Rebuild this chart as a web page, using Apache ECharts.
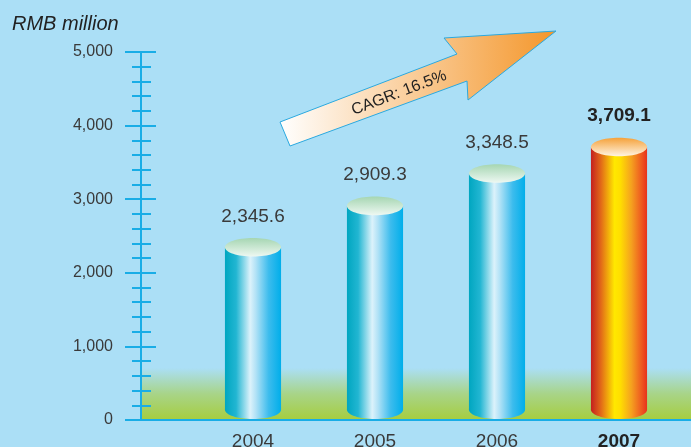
<!DOCTYPE html>
<html>
<head>
<meta charset="utf-8">
<script src="https://cdn.jsdelivr.net/npm/echarts@6/dist/echarts.min.js"></script>
<style>
  html, body { margin: 0; padding: 0; background: #abdff6; }
  #chart { width: 691px; height: 447px; }
</style>
</head>
<body>
<div id="chart"></div>
<script>
const years = ['2004', '2005', '2006', '2007']
const revenue = [2345.6, 2909.3, 3348.5, 3709.1]
const highlightIndex = 3
const yTicks = { min: 0, max: 5000, interval: 1000 }
const cagrText = 'CAGR: 16.5%'

const axisBlue = '#19ade6'
const font = 'Liberation Sans, Arial, sans-serif'

function fmt(v, digits) {
  return v.toLocaleString('en-US', { minimumFractionDigits: digits, maximumFractionDigits: digits })
}

const blueBody = new echarts.graphic.LinearGradient(0, 0, 1, 0, [
  { offset: 0, color: '#00a6c0' },
  { offset: 0.2, color: '#22b6d2' },
  { offset: 0.45, color: '#dcf2fb' },
  { offset: 0.55, color: '#b2e2f6' },
  { offset: 0.78, color: '#3cbced' },
  { offset: 1, color: '#00aeea' }
])
const blueCap = new echarts.graphic.LinearGradient(0, 0, 0, 1, [
  { offset: 0, color: '#a6d6b2' },
  { offset: 1, color: '#eef8f2' }
])
const hotBody = new echarts.graphic.LinearGradient(0, 0, 1, 0, [
  { offset: 0, color: '#c41f1f' },
  { offset: 0.18, color: '#e26a18' },
  { offset: 0.42, color: '#ffe800' },
  { offset: 0.52, color: '#ffdf00' },
  { offset: 0.72, color: '#f5a11f' },
  { offset: 0.9, color: '#ee5a20' },
  { offset: 1, color: '#e8321c' }
])
const hotCap = new echarts.graphic.LinearGradient(0, 0, 0, 1, [
  { offset: 0, color: '#f5a13a' },
  { offset: 1, color: '#fff4e2' }
])

function renderCylinder(params, api) {
  const idx = api.value(0)
  const val = api.value(1)
  const top = api.coord([idx, val])
  const base = api.coord([idx, 0])
  const w = api.size([1, 0])[0] * 0.46
  const ry = w * 0.165
  const cx = top[0]
  const yBot = base[1] - ry - 1
  const hot = idx === highlightIndex
  const body = hot ? hotBody : blueBody
  return {
    type: 'group',
    children: [
      { type: 'rect', shape: { x: cx - w / 2, y: top[1], width: w, height: yBot - top[1] }, style: { fill: body } },
      { type: 'ellipse', shape: { cx: cx, cy: yBot, rx: w / 2, ry: ry }, style: { fill: body } },
      { type: 'ellipse', shape: { cx: cx, cy: top[1], rx: w / 2, ry: ry }, style: { fill: hot ? hotCap : blueCap } },
      {
        type: 'text',
        style: {
          text: fmt(val, 1),
          x: cx,
          y: top[1] - ry - 12,
          align: 'center',
          verticalAlign: 'bottom',
          fontFamily: font,
          fontSize: 19,
          fontWeight: hot ? 'bold' : 'normal',
          fill: hot ? '#222' : '#3a3a3a'
        }
      }
    ]
  }
}

const yBase = {
  gridIndex: 0,
  type: 'value',
  min: yTicks.min,
  max: yTicks.max,
  interval: yTicks.interval,
  offset: 51,
  position: 'left',
  splitLine: { show: false }
}

const option = {
  backgroundColor: '#abdff6',
  animation: false,
  title: {
    text: 'RMB million',
    left: 7,
    top: 9,
    textStyle: { fontFamily: font, fontSize: 20, fontStyle: 'italic', fontWeight: 'normal', color: '#222' }
  },
  grid: [
    { left: 192, right: 11, top: 52, bottom: 27, outerBoundsMode: 'none', containLabel: false },
    {
      left: 141, right: 0, top: 368, bottom: 27, show: true, borderWidth: 0,
      outerBoundsMode: 'none', containLabel: false,
      backgroundColor: new echarts.graphic.LinearGradient(0, 0, 0, 1, [
        { offset: 0, color: 'rgba(166,205,62,0)' },
        { offset: 0.5, color: 'rgba(166,205,62,0.6)' },
        { offset: 1, color: 'rgba(166,205,62,1)' }
      ])
    }
  ],
  xAxis: [
    {
      gridIndex: 0,
      type: 'category',
      data: years,
      axisLine: { show: false },
      axisTick: { show: false },
      axisLabel: {
        margin: 12,
        formatter: (v, i) => i === highlightIndex ? '{b|' + v + '}' : '{n|' + v + '}',
        rich: {
          n: { fontFamily: font, fontSize: 19, color: '#3a3a3a' },
          b: { fontFamily: font, fontSize: 19, fontWeight: 'bold', color: '#222' }
        }
      }
    },
    {
      gridIndex: 1,
      type: 'value',
      axisLine: { show: true, lineStyle: { color: axisBlue, width: 2 } },
      axisTick: { show: false },
      axisLabel: { show: false },
      splitLine: { show: false }
    }
  ],
  yAxis: [
    Object.assign({}, yBase, {
      axisLine: { show: true, lineStyle: { color: axisBlue, width: 2 } },
      axisTick: { show: true, length: 16, lineStyle: { color: axisBlue, width: 2 } },
      minorTick: { show: true, splitNumber: 5, length: 9, lineStyle: { color: axisBlue, width: 2 } },
      axisLabel: {
        margin: 28,
        formatter: v => fmt(v, 0),
        fontFamily: font,
        fontSize: 16,
        color: '#3a3a3a'
      }
    }),
    Object.assign({}, yBase, {
      axisLine: { show: false },
      axisTick: { show: true, inside: true, length: 15, lineStyle: { color: axisBlue, width: 2 } },
      minorTick: { show: true, splitNumber: 5, length: 10, lineStyle: { color: axisBlue, width: 2 } },
      axisLabel: { show: false }
    }),
    { gridIndex: 1, type: 'value', show: false }
  ],
  graphic: [
    {
      type: 'polygon',
      z: 5,
      shape: {
        points: [[280, 122], [457, 54], [444, 38], [556, 31], [468, 100], [467, 81], [290, 146]]
      },
      style: {
        fill: new echarts.graphic.LinearGradient(0, 0, 1, 0, [
          { offset: 0, color: '#ffffff' },
          { offset: 1, color: '#f4962a' }
        ]),
        stroke: '#2aa9e0',
        lineWidth: 1
      }
    },
    {
      type: 'text',
      z: 6,
      x: 399,
      y: 93,
      rotation: 21 * Math.PI / 180,
      style: {
        text: cagrText,
        align: 'center',
        verticalAlign: 'middle',
        fontFamily: font,
        fontSize: 16,
        fill: '#222'
      }
    }
  ],
  series: [
    {
      type: 'custom',
      xAxisIndex: 0,
      yAxisIndex: 0,
      renderItem: renderCylinder,
      data: revenue.map((v, i) => [i, v]),
      z: 3
    }
  ]
}

const chart = echarts.init(document.getElementById('chart'))
chart.setOption(option)
window.addEventListener('resize', () => chart.resize())
</script>
</body>
</html>
